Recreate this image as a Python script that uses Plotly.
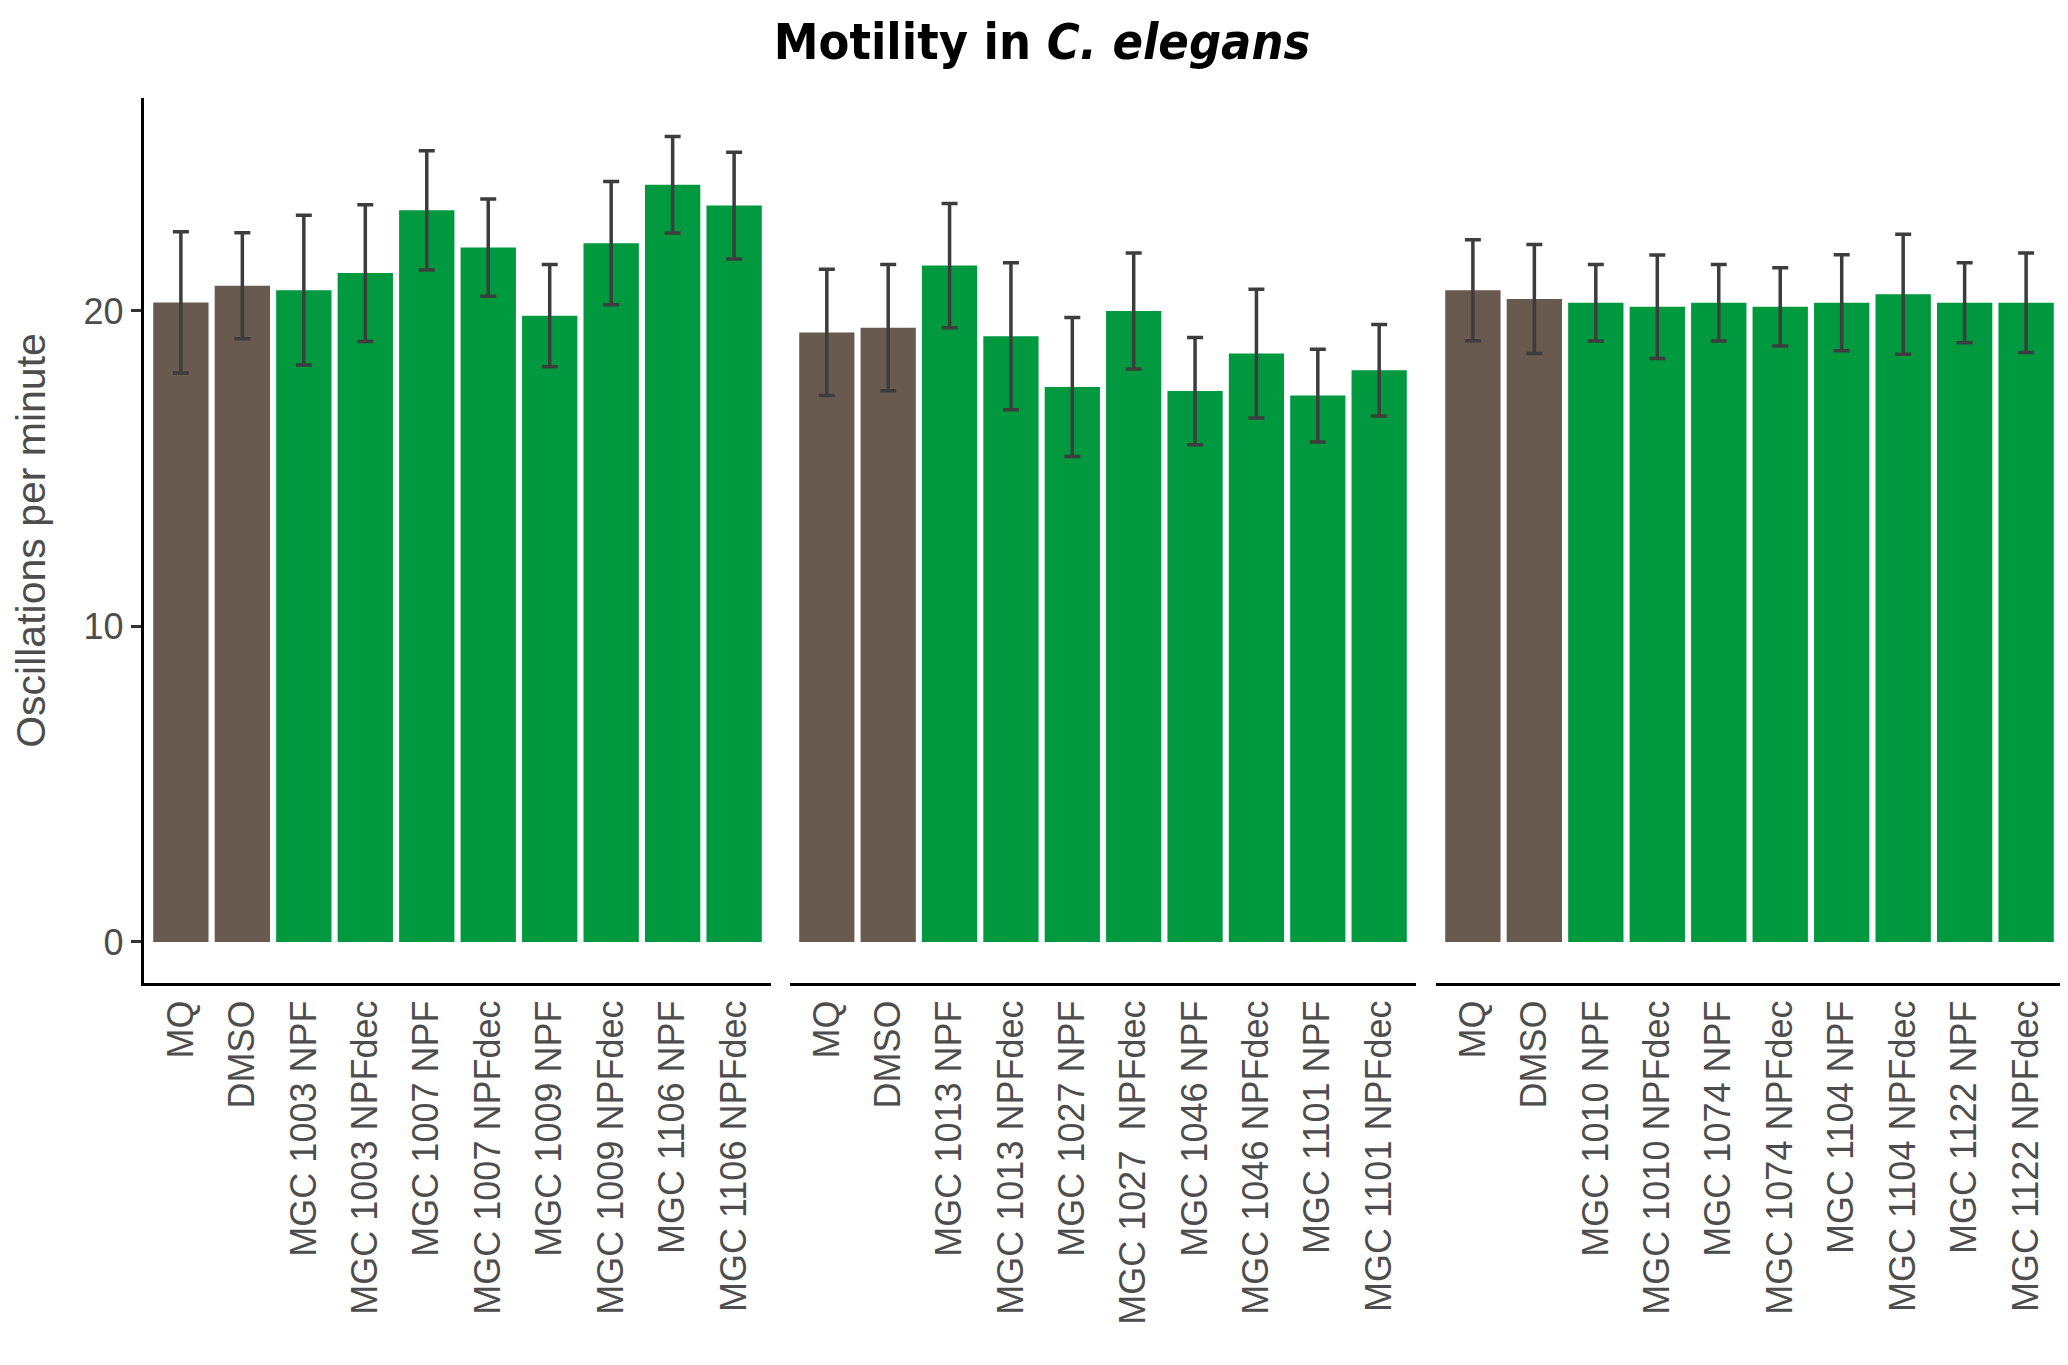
import plotly.graph_objects as go

# ---- data ----
panel1_labels = ["MQ", "DMSO", "MGC 1003 NPF", "MGC 1003 NPFdec", "MGC 1007 NPF",
                 "MGC 1007 NPFdec", "MGC 1009 NPF", "MGC 1009 NPFdec", "MGC 1106 NPF", "MGC 1106 NPFdec"]
panel1_values = [20.27, 20.80, 20.66, 21.20, 23.19, 22.01, 19.85, 22.15, 24.00, 23.34]
panel1_err = [2.24, 1.68, 2.37, 2.17, 1.89, 1.54, 1.62, 1.95, 1.53, 1.69]

panel2_labels = ["MQ", "DMSO", "MGC 1013 NPF", "MGC 1013 NPFdec", "MGC 1027 NPF",
                 "MGC 1027\u00a0 NPFdec", "MGC 1046 NPF", "MGC 1046 NPFdec", "MGC 1101 NPF", "MGC 1101 NPFdec"]
panel2_values = [19.32, 19.47, 21.44, 19.20, 17.59, 20.00, 17.46, 18.65, 17.32, 18.12]
panel2_err = [2.00, 2.00, 1.97, 2.33, 2.20, 1.84, 1.70, 2.04, 1.47, 1.45]

panel3_labels = ["MQ", "DMSO", "MGC 1010 NPF", "MGC 1010 NPFdec", "MGC 1074 NPF",
                 "MGC 1074 NPFdec", "MGC 1104 NPF", "MGC 1104 NPFdec", "MGC 1122 NPF", "MGC 1122 NPFdec"]
panel3_values = [20.66, 20.38, 20.26, 20.13, 20.26, 20.13, 20.26, 20.53, 20.26, 20.26]
panel3_err = [1.60, 1.73, 1.21, 1.64, 1.21, 1.24, 1.52, 1.90, 1.27, 1.58]

group_type = ["control", "control", "extract", "extract", "extract",
              "extract", "extract", "extract", "extract", "extract"]

y_ticks = [0, 10, 20]

# ---- styling ----
COLORS = {"control": "#685A4E", "extract": "#00993F"}
W, H = 2068, 1365
L, R, T, B = 136, 13, 90, 390
plot_w = W - L - R

def px_dom(a, b):
    return [(a - L) / plot_w, (b - L) / plot_w]

domains = [px_dom(136, 763), px_dom(782, 1408), px_dom(1428, 2055)]

fig = go.Figure()
panels = [(panel1_labels, panel1_values, panel1_err),
          (panel2_labels, panel2_values, panel2_err),
          (panel3_labels, panel3_values, panel3_err)]

for i, (labs, vals, errs) in enumerate(panels):
    xa = "x" if i == 0 else f"x{i+1}"
    ya = "y" if i == 0 else f"y{i+1}"
    fig.add_trace(go.Bar(
        x=labs, y=vals, xaxis=xa, yaxis=ya, width=0.9,
        marker=dict(color=[COLORS[g] for g in group_type], line=dict(width=0)),
        error_y=dict(type="data", array=errs, visible=True,
                     color="#3d3d3d", thickness=3.5, width=8),
        showlegend=False,
    ))

tick_font = dict(family="Liberation Sans, Arial, sans-serif", size=36, color="#4D4D4D")

layout = dict(
    width=W, height=H,
    margin=dict(l=L, r=R, t=T, b=B, pad=0),
    plot_bgcolor="white", paper_bgcolor="white",
    bargap=0.1,
    title=dict(
        text="<b>Motility in <i>C. elegans</i></b>",
        x=0.5, xref="container", xanchor="center",
        y=1 - 33 / H, yref="container", yanchor="middle",
        font=dict(family="Liberation Sans Narrow, DejaVu Sans Condensed, Open Sans, sans-serif",
                  size=50, color="black"),
    ),
)

for i in range(3):
    key = "xaxis" if i == 0 else f"xaxis{i+1}"
    layout[key] = dict(
        domain=domains[i], anchor="y" if i == 0 else f"y{i+1}",
        type="category", range=[-0.6, 9.6],
        showline=True, linecolor="black", linewidth=3.3,
        showgrid=False, zeroline=False, ticks="",
        tickangle=-90, tickfont=tick_font, ticklabelstandoff=0,
        fixedrange=True,
    )
    ykey = "yaxis" if i == 0 else f"yaxis{i+1}"
    if i == 0:
        layout[ykey] = dict(
            domain=[0, 1], anchor="x", range=[-1.3, 26.75],
            showline=True, linecolor="black", linewidth=3.3,
            showgrid=False, zeroline=False,
            ticks="outside", ticklen=10, tickwidth=2.7, tickcolor="#333333",
            tickvals=y_ticks, ticktext=[str(v) for v in y_ticks],
            tickfont=tick_font, ticklabelstandoff=0,
            title=dict(text="Oscillations per minute", standoff=26,
                       font=dict(family="Liberation Sans, Arial, sans-serif", size=41, color="#4D4D4D")),
        )
    else:
        layout[ykey] = dict(
            domain=[0, 1], anchor=f"x{i+1}", matches="y", range=[-1.3, 26.75],
            visible=False, showgrid=False, zeroline=False,
        )

fig.update_layout(**layout)
fig.write_html("out.html")
